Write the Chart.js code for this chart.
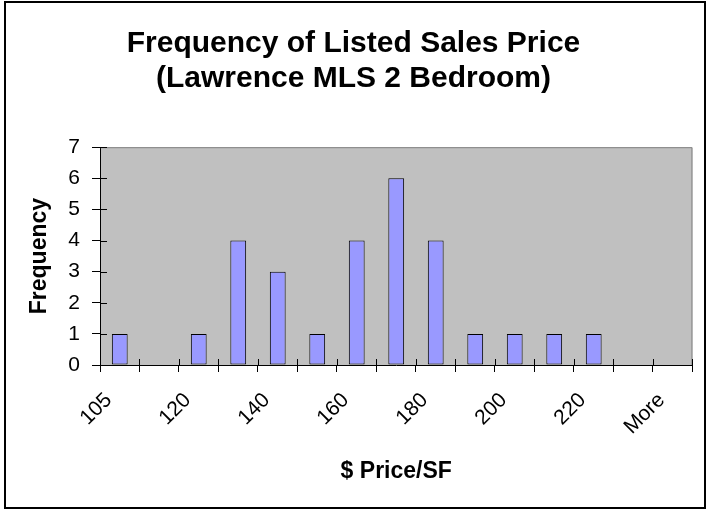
<!DOCTYPE html>
<html>
<head>
<meta charset="utf-8">
<script src="https://cdn.jsdelivr.net/npm/chart.js@4/dist/chart.umd.min.js"></script>
<style>
  html, body { margin: 0; padding: 0; background: #ffffff; }
  #wrap { width: 707px; height: 510px; }
</style>
</head>
<body>
<div id="wrap"><canvas id="c" width="707" height="510"></canvas></div>
<script>
// Histogram bins (only every other label is printed in the reference)
const binLabels = ['105', '', '120', '', '140', '', '160', '', '180', '', '200', '', '220', '', 'More'];
const frequency = [1, 0, 1, 4, 3, 1, 4, 6, 4, 1, 1, 1, 1, 0, 0];
const yTicks = [0, 1, 2, 3, 4, 5, 6, 7];
const chartTitle = ['Frequency of Listed Sales Price', '(Lawrence MLS 2 Bedroom)'];
const xTitle = '$ Price/SF';
const yTitle = 'Frequency';

const FONT = '"Liberation Sans", Arial, Helvetica, sans-serif';

const decor = {
  id: 'decor',
  beforeDraw(chart) {
    const {ctx, chartArea: a} = chart;
    ctx.save();
    ctx.fillStyle = '#ffffff';
    ctx.fillRect(0, 0, chart.width, chart.height);
    ctx.fillStyle = '#c0c0c0';
    ctx.fillRect(a.left, a.top, a.right - a.left, a.bottom - a.top);
    // outer frame
    ctx.strokeStyle = '#000000';
    ctx.lineWidth = 2;
    ctx.strokeRect(5, 2, 700, 506);
    ctx.restore();
  },
  afterDraw(chart) {
    const {ctx, chartArea: a, scales} = chart;
    ctx.save();
    // plot area top/right border (grey)
    ctx.strokeStyle = '#808080';
    ctx.lineWidth = 1;
    ctx.beginPath();
    ctx.moveTo(a.left, a.top + 0.5);
    ctx.lineTo(a.right - 0.5, a.top + 0.5);
    ctx.lineTo(a.right - 0.5, a.bottom);
    ctx.stroke();
    // inner half of cross tick marks
    ctx.strokeStyle = '#000000';
    ctx.beginPath();
    const xs = scales.x;
    const n = binLabels.length;
    for (let i = 0; i <= n; i++) {
      const x = Math.round(xs.left + i * (xs.right - xs.left) / n) + 0.5;
      ctx.moveTo(x, a.bottom);
      ctx.lineTo(x, a.bottom - 6);
    }
    const ys = scales.y;
    yTicks.forEach(v => {
      const y = Math.round(ys.getPixelForValue(v)) + 0.5;
      ctx.moveTo(a.left, y);
      ctx.lineTo(a.left + 7, y);
    });
    ctx.stroke();
    ctx.restore();
  }
};

new Chart(document.getElementById('c'), {
  type: 'bar',
  data: {
    labels: binLabels,
    datasets: [{
      label: 'Frequency',
      data: frequency,
      backgroundColor: '#9999ff',
      borderColor: '#000000',
      borderWidth: ctx => (ctx.raw === 0 ? 0 : 1),
      borderSkipped: false,
      categoryPercentage: 1.0,
      barPercentage: 0.4
    }]
  },
  options: {
    responsive: false,
    animation: false,
    devicePixelRatio: 1,
    layout: { padding: { left: 14, right: 14, top: 0, bottom: 0 } },
    plugins: {
      legend: { display: false },
      tooltip: { enabled: false },
      title: {
        display: true,
        text: chartTitle,
        color: '#000000',
        font: { family: FONT, size: 30, weight: 'bold', lineHeight: 1.17 },
        padding: { top: 26, bottom: 51 }
      }
    },
    scales: {
      x: {
        offset: true,
        grid: {
          display: true,
          offset: true,
          drawOnChartArea: false,
          drawTicks: true,
          tickLength: 7,
          color: '#000000'
        },
        border: { display: true, color: '#000000', width: 1 },
        ticks: {
          autoSkip: false,
          maxRotation: 45,
          minRotation: 45,
          padding: 16,
          labelOffset: -11,
          color: '#000000',
          font: { family: FONT, size: 21 },
          callback: (v, i) => binLabels[i]
        },
        title: {
          display: true,
          text: xTitle,
          color: '#000000',
          font: { family: FONT, size: 23, weight: 'bold' },
          padding: { top: 0, bottom: 25 }
        },
        afterFit(scale) { scale.height = 145; }
      },
      y: {
        min: 0,
        max: 7,
        grid: {
          display: true,
          drawOnChartArea: false,
          drawTicks: true,
          tickLength: 8,
          color: '#000000'
        },
        border: { display: true, color: '#000000', width: 1 },
        ticks: {
          stepSize: 1,
          padding: 12,
          color: '#000000',
          font: { family: FONT, size: 21 },
          callback: v => (yTicks.includes(v) ? String(v) : '')
        },
        title: {
          display: true,
          text: yTitle,
          color: '#000000',
          font: { family: FONT, size: 23, weight: 'bold' },
          padding: { top: 12, bottom: 0 }
        },
        afterFit(scale) { scale.width = 86; }
      }
    }
  },
  plugins: [decor]
});
</script>
</body>
</html>
